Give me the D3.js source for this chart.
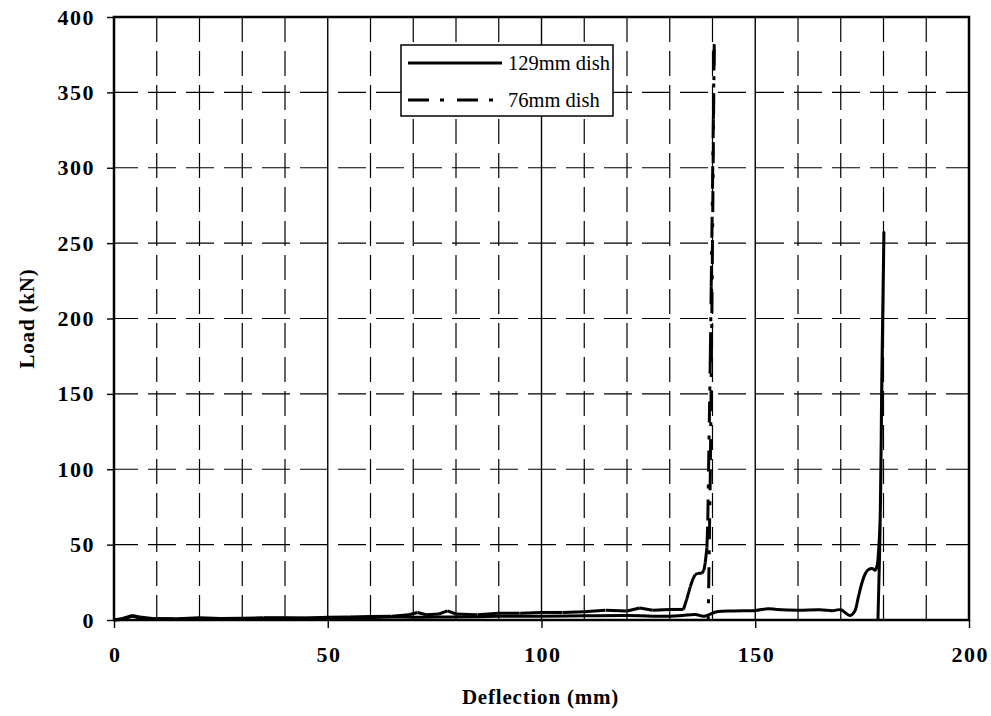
<!DOCTYPE html>
<html>
<head>
<meta charset="utf-8">
<script src="https://cdn.jsdelivr.net/npm/d3@7"></script>
<style>
  html, body { margin: 0; padding: 0; background: #fff; }
  svg { display: block; }
  text { font-family: "Liberation Serif", "Times New Roman", serif; fill: #000; }
</style>
</head>
<body>
<svg id="chart" width="991" height="716"></svg>
<script>
// Load–deflection records for the two dish tests
const dish129Deflection = [0, 2, 4.3, 6, 10, 18, 25, 30, 40, 50, 60, 65, 70, 78, 85, 90, 100, 110, 120, 130, 133, 136, 138, 141, 145, 150, 153, 155, 160, 165.2, 168, 170, 172.2, 173.3, 174.1, 175.0, 175.7, 176.3, 176.9, 177.5, 178.0, 178.5, 178.8, 179.2, 179.6, 180.1, 179.6, 179.2, 178.7];
const dish129Load       = [0, 0.5, 2.5, 1.2, 0.6, 1, 0.8, 1, 1.2, 1.5, 1.5, 2, 1.8, 2, 2.2, 2.5, 2.5, 2.8, 3, 2.5, 3, 3.6, 2.5, 5.5, 6, 6.3, 7.5, 7, 6.5, 6.8, 6.2, 6.8, 3, 6, 15, 25, 30.5, 33, 34, 34, 33, 36, 44, 66, 160, 257, 150, 60, 0];

const dish76Deflection = [0, 2, 4.3, 6, 9, 15, 20, 25, 30, 35, 40, 45, 50, 55, 60, 65, 69, 71, 73, 76, 78, 80, 85, 90, 95, 100, 105, 110, 115, 120, 123, 126, 130, 133.2, 134.0, 134.8, 135.4, 135.9, 136.6, 137.5, 138.0, 138.3, 138.7, 138.9, 139.5, 139.7, 140.0, 140.2, 140.4, 140.0, 139.5, 139.0];
const dish76Load       = [0, 1, 3, 2, 1, 0.8, 1.5, 1, 1.2, 1.5, 1.5, 1.2, 1.8, 2, 2.3, 2.5, 3.5, 5, 3.5, 4, 6, 4, 3.5, 4.5, 4.5, 5, 5, 5.5, 6.5, 6, 8, 6.5, 7, 7, 14, 22, 27, 30, 31, 31, 33, 38, 48, 66, 177, 221, 287, 332, 382, 250, 100, 0];

const xTicks = [0, 50, 100, 150, 200];
const yTicks = [0, 50, 100, 150, 200, 250, 300, 350, 400];
const xMinorGrid = [10, 20, 30, 40, 60, 70, 80, 90, 110, 120, 130, 140, 160, 170, 180, 190];
const xMajorGrid = [50, 100, 150];
const yGrid = [50, 100, 150, 200, 250, 300, 350];

const seriesNames = ["129mm dish", "76mm dish"];

const svg = d3.select("#chart");
const plot = { left: 114, right: 969, top: 17, bottom: 620 };

const x = d3.scaleLinear().domain([0, 200]).range([plot.left, plot.right]);
const y = d3.scaleLinear().domain([0, 400]).range([plot.bottom, plot.top]);

// Grid lines
const grid = svg.append("g");
grid.selectAll(".vminor").data(xMinorGrid).join("line")
  .attr("x1", d => x(d)).attr("x2", d => x(d))
  .attr("y1", plot.top).attr("y2", plot.bottom)
  .attr("stroke", "#000").attr("stroke-width", 1.2)
  .attr("stroke-dasharray", "25,9");
grid.selectAll(".hgrid").data(yGrid).join("line")
  .attr("x1", plot.left).attr("x2", plot.right)
  .attr("y1", d => y(d)).attr("y2", d => y(d))
  .attr("stroke", "#000").attr("stroke-width", 1.2)
  .attr("stroke-dasharray", "28,10")
  .attr("stroke-dashoffset", 4);
grid.selectAll(".vmajor").data(xMajorGrid).join("line")
  .attr("x1", d => x(d)).attr("x2", d => x(d))
  .attr("y1", plot.top).attr("y2", plot.bottom)
  .attr("stroke", "#000").attr("stroke-width", 1.4);

// Axes with outward ticks
const xAxis = d3.axisBottom(x).tickValues(xTicks).tickSize(8).tickPadding(18).tickFormat(d3.format("d"));
const yAxis = d3.axisLeft(y).tickValues(yTicks).tickSize(7).tickPadding(12).tickFormat(d3.format("d"));

const gx = svg.append("g").attr("transform", `translate(0,${plot.bottom})`).call(xAxis);
const gy = svg.append("g").attr("transform", `translate(${plot.left},0)`).call(yAxis);
[gx, gy].forEach(g => {
  g.select(".domain").remove();
  g.selectAll(".tick line").attr("stroke", "#000").attr("stroke-width", 1.4);
  g.selectAll(".tick text")
    .style("font-family", "'Liberation Serif', serif")
    .style("font-size", "22px")
    .style("font-weight", "bold")
    .style("letter-spacing", "1.5px")
    .attr("fill", "#000");
});
gx.selectAll(".tick text").attr("dx", "0.75px");

// Curves: the dash pattern restarts on every recorded segment
const line = d3.line().x(d => x(d[0])).y(d => y(d[1]));
const s129 = dish129Deflection.map((d, i) => [d, dish129Load[i]]);
const s76 = dish76Deflection.map((d, i) => [d, dish76Load[i]]);

svg.append("path").datum(s129)
  .attr("d", line.curve(d3.curveCatmullRom.alpha(0.5)))
  .attr("fill", "none").attr("stroke", "#000").attr("stroke-width", 3)
  .attr("stroke-linejoin", "round");

const seg76 = d3.pairs(s76);
svg.append("g").selectAll("path").data(seg76).join("path")
  .attr("d", d => d3.line().x(p => x(p[0])).y(p => y(p[1]))(d))
  .attr("fill", "none").attr("stroke", "#000").attr("stroke-width", 3)
  .attr("stroke-dasharray", "21,11,4,13");

// Plot frame
svg.append("rect")
  .attr("x", plot.left).attr("y", plot.top)
  .attr("width", plot.right - plot.left).attr("height", plot.bottom - plot.top)
  .attr("fill", "none").attr("stroke", "#000").attr("stroke-width", 2.5);

// Axis titles
svg.append("text")
  .attr("x", (plot.left + plot.right) / 2 - 1).attr("y", 704)
  .attr("text-anchor", "middle")
  .style("font-size", "21px").style("font-weight", "bold").style("letter-spacing", "0.8px")
  .text("Deflection (mm)");
svg.append("text")
  .attr("transform", `translate(34,${(plot.top + plot.bottom) / 2}) rotate(-90)`)
  .attr("text-anchor", "middle")
  .style("font-size", "21px").style("font-weight", "bold").style("letter-spacing", "0.8px")
  .text("Load (kN)");

// Legend
const legend = svg.append("g").attr("transform", "translate(401,45)");
legend.append("rect")
  .attr("width", 212).attr("height", 71)
  .attr("fill", "#fff").attr("stroke", "#000").attr("stroke-width", 1.5);
const legendDash = [null, "21,11,4,13"];
seriesNames.forEach((name, i) => {
  const ly = 18 + i * 37;
  legend.append("line")
    .attr("x1", 7).attr("x2", 101).attr("y1", ly).attr("y2", ly)
    .attr("stroke", "#000").attr("stroke-width", 3)
    .attr("stroke-dasharray", legendDash[i]);
  legend.append("text")
    .attr("x", 107).attr("y", ly + 7)
    .style("font-size", "20.5px")
    .text(name);
});
</script>
</body>
</html>
